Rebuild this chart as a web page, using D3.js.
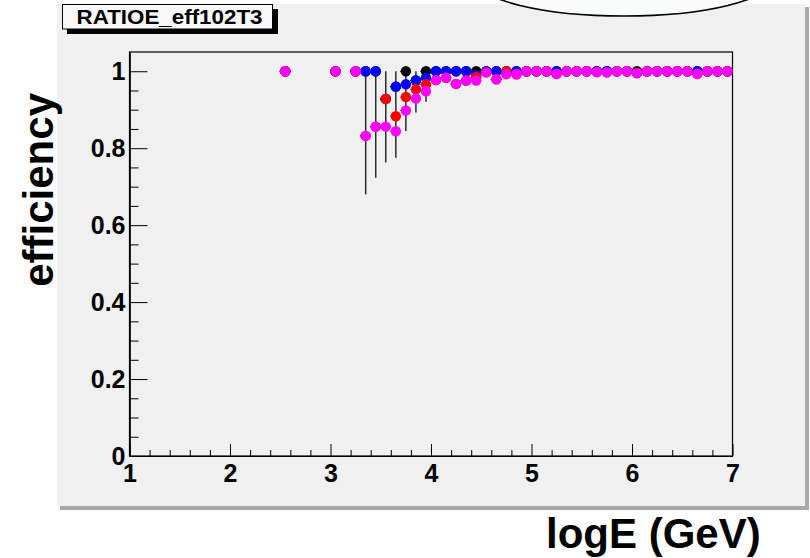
<!DOCTYPE html>
<html>
<head>
<meta charset="utf-8">
<script src="https://cdn.jsdelivr.net/npm/d3@7"></script>
<style>
  html, body { margin: 0; padding: 0; background: #ffffff; }
  svg { display: block; }
  text { font-family: "Liberation Sans", Arial, Helvetica, sans-serif; font-weight: bold; }
</style>
</head>
<body>
<svg id="chart" width="810" height="558"></svg>
<script>
// ---------- data ----------
const chartTitle = "RATIOE_eff102T3";
const xTitle = "logE (GeV)";
const yTitle = "efficiency";

const bins = [2.55, 3.05, 3.25, 3.35, 3.45, 3.55, 3.65, 3.75, 3.85, 3.95,
              4.05, 4.15, 4.25, 4.35, 4.45, 4.55, 4.65, 4.75, 4.85, 4.95,
              5.05, 5.15, 5.25, 5.35, 5.45, 5.55, 5.65, 5.75, 5.85, 5.95,
              6.05, 6.15, 6.25, 6.35, 6.45, 6.55, 6.65, 6.75, 6.85, 6.95];

const blackValues = [1, 1, 1, 1, 1, 0.928, 0.960, 1, 0.976, 1,
                     1, 1, 1, 1, 1, 1, 1, 1, 1, 1,
                     1, 1, 1, 1, 1, 1, 1, 1, 1, 1,
                     1, 1, 1, 1, 1, 1, 1, 1, 1, 1];

const blueValues  = [1, 1, 1, 1, 1, 0.928, 0.960, 0.966, 0.976, 0.983,
                     1, 1, 1, 1, 0.990, 1, 1, 0.995, 1, 1,
                     1, 1, 1, 1, 1, 1, 1, 1, 1, 1,
                     0.995, 1, 1, 1, 1, 1, 1, 1, 1, 1];

const redValues   = [1, 1, 1, 0.832, 0.856, 0.928, 0.883, 0.933, 0.953, 0.966,
                     0.977, 0.983, 0.967, 0.976, 0.985, 0.997, 0.979, 1, 0.992, 1,
                     1, 1, 0.993, 1, 1, 1, 0.998, 0.997, 1, 1,
                     0.995, 1, 1, 1, 1, 1, 0.993, 1, 1, 1];

const magentaValues = [1, 1, 1, 0.832, 0.856, 0.856, 0.844, 0.898, 0.929, 0.948,
                       0.977, 0.983, 0.967, 0.976, 0.976, 0.997, 0.979, 0.992, 0.992, 1,
                       1, 1, 0.993, 1, 1, 1, 0.998, 0.997, 1, 1,
                       0.995, 1, 1, 1, 1, 1, 0.993, 1, 1, 1];

// visible vertical error bars (low / high edge) per bin
const errLow  = [null, null, null, 0.680, 0.723, 0.763, 0.775, 0.845, 0.893, 0.921,
                 0.964, null, null, null, null, null, null, null, null, null,
                 null, null, null, null, null, null, null, null, null, null,
                 null, null, null, null, null, null, null, null, null, null];
const errHigh = [null, null, null, 1, 1, 1, 1, 1, 1, 1,
                 1, null, null, null, null, null, null, null, null, null,
                 null, null, null, null, null, null, null, null, null, null,
                 null, null, null, null, null, null, null, null, null, null];
const binHalfWidth = 0.05;

const seriesNames  = ["black", "blue", "red", "magenta"];
const seriesColors = ["#000000", "#0000ff", "#ff0000", "#ff00ff"];
const seriesValues = [blackValues, blueValues, redValues, magentaValues];

const xMajorTicks = [1, 2, 3, 4, 5, 6, 7];
const xTickLabels = ["1", "2", "3", "4", "5", "6", "7"];
const xMinorTicks = [1.2, 1.4, 1.6, 1.8, 2.2, 2.4, 2.6, 2.8, 3.2, 3.4, 3.6, 3.8,
                     4.2, 4.4, 4.6, 4.8, 5.2, 5.4, 5.6, 5.8, 6.2, 6.4, 6.6, 6.8];
const yMajorTicks = [0, 0.2, 0.4, 0.6, 0.8, 1];
const yTickLabels = ["0", "0.2", "0.4", "0.6", "0.8", "1"];
const yMinorTicks = [0.05, 0.1, 0.15, 0.25, 0.3, 0.35, 0.45, 0.5, 0.55, 0.65, 0.7, 0.75,
                     0.85, 0.9, 0.95];
const xDomain = [1, 7];
const yDomain = [0, 1.05];

// ---------- layout ----------
const svg = d3.select("#chart");
const frame = { left: 129.5, right: 732.5, top: 52, bottom: 456 };

// pad with bevel shadow
svg.append("rect").attr("x", 60).attr("y", 7).attr("width", 749).attr("height", 503).attr("fill", "#a8a8a8");
svg.append("rect").attr("x", 57).attr("y", 4).attr("width", 748).attr("height", 502).attr("fill", "#f0f0f0");

// ellipse (clipped at top of canvas)
svg.append("ellipse")
  .attr("cx", 624).attr("cy", -20).attr("rx", 147).attr("ry", 36)
  .attr("fill", "#fafcfc").attr("stroke", "#000").attr("stroke-width", 1.6);

// title box
svg.append("rect").attr("x", 67).attr("y", 9).attr("width", 211).attr("height", 25).attr("fill", "#000");
svg.append("rect").attr("x", 62.5).attr("y", 4.5).attr("width", 210).attr("height", 24.5)
  .attr("fill", "#f8f8f8").attr("stroke", "#000").attr("stroke-width", 1);
svg.append("text").attr("x", 169.5).attr("y", 23.5).attr("text-anchor", "middle")
  .attr("font-size", 21).attr("textLength", 186).attr("lengthAdjust", "spacingAndGlyphs")
  .attr("fill", "#000").text(chartTitle);

// scales
const x = d3.scaleLinear().domain(xDomain).range([frame.left, frame.right]);
const y = d3.scaleLinear().domain(yDomain).range([frame.bottom, frame.top]);

// frame
svg.append("rect")
  .attr("x", frame.left).attr("y", frame.top)
  .attr("width", frame.right - frame.left).attr("height", frame.bottom - frame.top)
  .attr("fill", "#f0f0f0").attr("stroke", "#000").attr("stroke-width", 1.2);

// x axis (ticks inside)
const gx = svg.append("g").attr("transform", `translate(0,${frame.bottom})`);
gx.call(d3.axisBottom(x).tickValues(xMajorTicks).tickSizeInner(-12).tickSizeOuter(0)
  .tickPadding(8).tickFormat((d, i) => xTickLabels[i]));
const gxm = svg.append("g").attr("transform", `translate(0,${frame.bottom})`);
gxm.call(d3.axisBottom(x).tickValues(xMinorTicks).tickSizeInner(-6).tickSizeOuter(0).tickFormat(""));

// y axis (ticks inside)
const gy = svg.append("g").attr("transform", `translate(${frame.left},0)`);
gy.call(d3.axisLeft(y).tickValues(yMajorTicks).tickSizeInner(-18).tickSizeOuter(0)
  .tickPadding(4).tickFormat((d, i) => yTickLabels[i]));
const gym = svg.append("g").attr("transform", `translate(${frame.left},0)`);
gym.call(d3.axisLeft(y).tickValues(yMinorTicks).tickSizeInner(-9).tickSizeOuter(0).tickFormat(""));

[gx, gxm, gy, gym].forEach(g => {
  g.select(".domain").attr("stroke", "#000").attr("stroke-width", 1.2);
  g.selectAll(".tick line").attr("stroke", "#000").attr("stroke-width", 1);
  g.selectAll(".tick text").attr("font-size", 25).attr("fill", "#000")
    .attr("font-family", "'Liberation Sans', Arial, sans-serif").attr("font-weight", "bold");
});

// axis titles
svg.append("text").attr("x", 546).attr("y", 548).attr("text-anchor", "start")
  .attr("font-size", 42).attr("fill", "#000").text(xTitle);
svg.append("text").attr("transform", "translate(53,93) rotate(-90)").attr("text-anchor", "end")
  .attr("font-size", 42).attr("fill", "#000").text(yTitle);

// error bars
const errData = bins.map((b, i) => ({ b, lo: errLow[i], hi: errHigh[i] })).filter(d => d.lo !== null);
svg.append("g").selectAll("line").data(errData).join("line")
  .attr("x1", d => x(d.b)).attr("x2", d => x(d.b))
  .attr("y1", d => y(d.hi)).attr("y2", d => y(d.lo))
  .attr("stroke", "#2a2a2a").attr("stroke-width", 1.5);

// horizontal bin-width bars + markers, per series
seriesValues.forEach((vals, s) => {
  const pts = bins.map((b, i) => ({ b, v: vals[i] })).filter(d => d.v !== null);
  const g = svg.append("g").attr("class", "series-" + seriesNames[s]);
  g.selectAll("line").data(pts).join("line")
    .attr("x1", d => x(d.b - binHalfWidth) - 0.5).attr("x2", d => x(d.b + binHalfWidth))
    .attr("y1", d => y(d.v)).attr("y2", d => y(d.v))
    .attr("stroke", "#000").attr("stroke-width", 1);
  g.selectAll("circle").data(pts).join("circle")
    .attr("cx", d => x(d.b)).attr("cy", d => y(d.v)).attr("r", 5.2)
    .attr("fill", seriesColors[s]);
});
</script>
</body>
</html>
